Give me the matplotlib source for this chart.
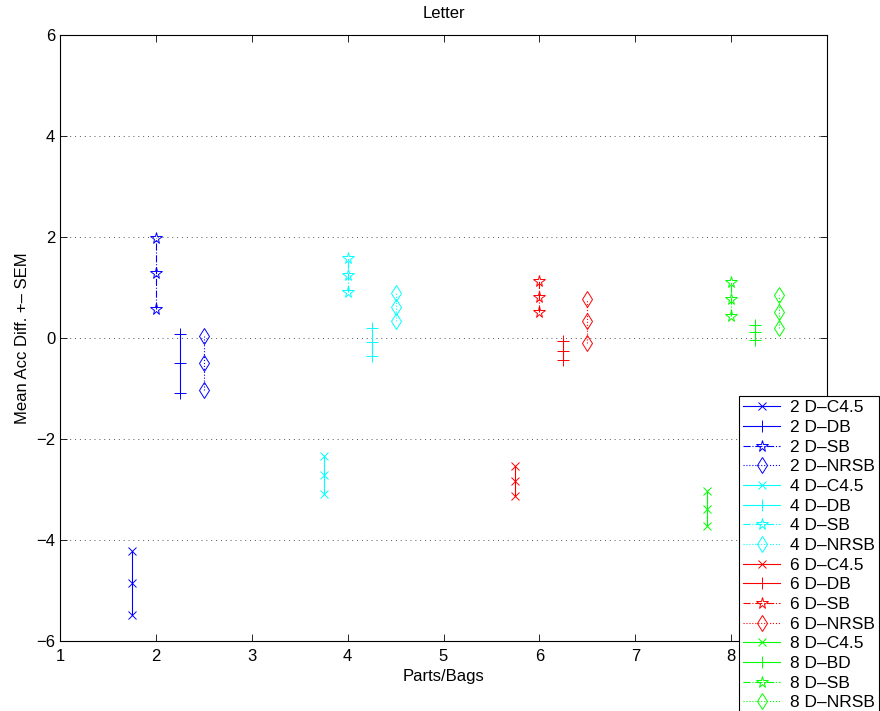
import matplotlib
matplotlib.use("Agg")
import matplotlib.pyplot as plt
import numpy as np

plt.rcParams['font.family'] = ['Liberation Sans', 'DejaVu Sans']

# Mean accuracy difference and standard error per method, grouped by parts/bags
labels = ["2 D–C4.5", "2 D–DB", "2 D–SB", "2 D–NRSB",
          "4 D–C4.5", "4 D–DB", "4 D–SB", "4 D–NRSB",
          "6 D–C4.5", "6 D–DB", "6 D–SB", "6 D–NRSB",
          "8 D–C4.5", "8 D–BD", "8 D–SB", "8 D–NRSB"]
x_pos = [1.75, 2.25, 2.0, 2.5,
         3.75, 4.25, 4.0, 4.5,
         5.75, 6.25, 6.0, 6.5,
         7.75, 8.25, 8.0, 8.5]
means = [-4.85, -0.50, 1.28, -0.50,
         -2.71, -0.08, 1.25, 0.61,
         -2.83, -0.25, 0.82, 0.34,
         -3.38, 0.11, 0.77, 0.52]
sems = [0.63, 0.58, 0.70, 0.53,
        0.37, 0.28, 0.34, 0.28,
        0.30, 0.19, 0.30, 0.44,
        0.35, 0.15, 0.33, 0.33]

colors = ["#0000ff"] * 4 + ["#00ffff"] * 4 + ["#ff0000"] * 4 + ["#00ff00"] * 4
markers = ["x", "+", "*", "d"] * 4
styles = ["-", "-", "-.", ":"] * 4
msizes = [5.5, 9, 8.5, 8.5] * 4

fs = 12

fig = plt.figure(figsize=(8.8, 7.11), dpi=100)
ax = fig.add_axes([60 / 880, 1 - 641 / 711, (827 - 60) / 880, (641 - 35) / 711])

handles = []
for lab, x, m, s, c, mk, ls, ms in zip(labels, x_pos, means, sems, colors,
                                       markers, styles, msizes):
    ys = [m - s, m, m + s]
    h, = ax.plot([x, x, x], ys, color=c, linestyle=ls, marker=mk,
                 markersize=ms, markerfacecolor='none', markeredgecolor=c,
                 linewidth=0.8, markeredgewidth=0.7, label=lab)
    handles.append(h)

ax.set_xlim(1, 9)
ax.set_ylim(-6, 6)
ax.set_xticks(np.arange(1, 10))
ax.set_yticks(np.arange(-6, 7, 2))
ax.tick_params(axis='x', pad=6)
ax.tick_params(direction='in', top=True, right=True, labelsize=fs,
               length=5, width=0.6)
ax.yaxis.grid(True, linestyle=(0, (1, 4)), color='#555555', linewidth=0.7)
for sp in ax.spines.values():
    sp.set_linewidth(0.8)

ax.set_title("Letter", fontsize=fs, pad=12.5)
ax.set_xlabel("Parts/Bags", fontsize=fs, labelpad=3)
ax.set_ylabel("Mean Acc Diff. +– SEM", fontsize=fs, labelpad=4)

leg = fig.legend(handles=handles, labels=labels, loc='upper left',
                 bbox_to_anchor=(739 / 880, 1 - 396 / 711),
                 bbox_transform=fig.transFigure,
                 fontsize=12.5, frameon=True, fancybox=False, framealpha=1,
                 handlelength=2.1, handletextpad=0.6, borderpad=0.25,
                 labelspacing=0.26, borderaxespad=0)
leg.set_zorder(10)
leg.get_frame().set_edgecolor('black')
leg.get_frame().set_linewidth(0.8)

fig.savefig("out.png", dpi=100)
